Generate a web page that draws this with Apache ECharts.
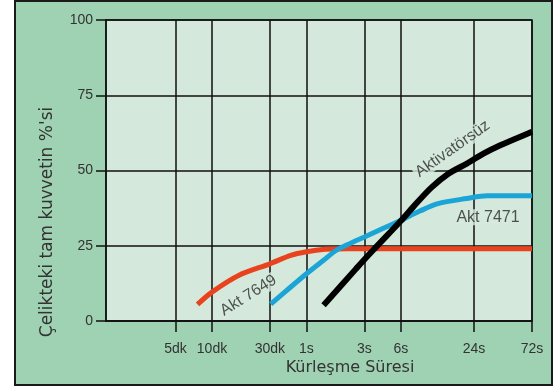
<!DOCTYPE html>
<html>
<head>
<meta charset="utf-8">
<script src="https://cdn.jsdelivr.net/npm/echarts@6/dist/echarts.min.js"></script>
<style>
html,body{margin:0;padding:0;background:#fff;}
#c{width:557px;height:387px;}
</style>
</head>
<body>
<div id="c"></div>
<script>
// X tick positions (minutes) and their labels
const tickValuesX = [5, 10, 30, 60, 180, 360, 1440, 4320];
const tickLabelsX = ['5dk', '10dk', '30dk', '1s', '3s', '6s', '24s', '72s'];
const ticksY = [0, 25, 50, 75, 100];

// Akt 7649 (red)
const redX = [7.6, 10, 16.7, 30, 44.5, 60, 85, 130, 4320];
const redY = [5.5, 9.6, 15.2, 19, 21.8, 23, 23.8, 24, 24];
// Akt 7471 (blue)
const blueX = [30.5, 44.5, 60, 83, 106, 136, 180, 255, 360, 520, 726, 1253, 1847, 4320];
const blueY = [5.6, 11.3, 15.7, 20.2, 23.5, 25.7, 27.9, 30.7, 33.5, 36.6, 39, 40.7, 41.6, 41.6];
// Aktivatörsüz (black)
const blackX = [83, 154, 211, 360, 456, 640, 891, 1256, 1734, 2367, 3230, 4320];
const blackY = [5.2, 17.4, 23.4, 33.3, 38, 44.3, 49, 52.3, 55.7, 58.4, 60.7, 62.9];

// curve labels: position and rotation
const labelNames = ['Akt 7649', 'Akt 7471', 'Aktivatörsüz'];
const labelX = [20, 1876, 960];
const labelY = [8.5, 34.5, 57.2];
const labelRot = [32, 0, 35];

const plotBg = '#d5e8dc';
const zip = (xs, ys) => xs.map((x, i) => [x, ys[i]]);

const chart = echarts.init(document.getElementById('c'), null, { renderer: 'canvas' });
chart.setOption({
  animation: false,
  backgroundColor: '#ffffff',
  graphic: [
    { type: 'rect', z: -100, shape: { x: 15, y: 1, width: 537, height: 384 },
      style: { fill: '#9fd1b3', stroke: '#1a1a1a', lineWidth: 2 } },
    { type: 'text', x: 350, y: 368, z: 10,
      style: { text: 'Kürleşme Süresi', font: '16px "DejaVu Sans"', fill: '#333', align: 'center', verticalAlign: 'middle' } },
    { type: 'text', x: 48, y: 222, rotation: Math.PI / 2, z: 10,
      style: { text: "Çelikteki tam kuvvetin %'si", font: '17px "DejaVu Sans"', fill: '#333', align: 'center', verticalAlign: 'middle' } }
  ],
  grid: {
    left: 106, right: 25, top: 20, bottom: 66,
    show: true, backgroundColor: plotBg, borderColor: '#111', borderWidth: 1.5
  },
  xAxis: {
    type: 'log', logBase: 10, min: 1.34, max: 4320,
    axisLine: { show: true, lineStyle: { color: '#111', width: 1.5 } },
    axisTick: { show: true, customValues: tickValuesX, length: 11, inside: false, lineStyle: { color: '#111', width: 1.5 } },
    axisLabel: {
      customValues: tickValuesX, margin: 21, color: '#333', fontSize: 14, fontFamily: 'Liberation Sans',
      formatter: function (v) {
        for (let i = 0; i < tickValuesX.length; i++) {
          if (Math.abs(tickValuesX[i] - v) / tickValuesX[i] < 1e-6) return tickLabelsX[i];
        }
        return '';
      }
    },
    splitLine: { show: true, lineStyle: { color: '#111', width: 1.5 } },
    minorTick: { show: false }, minorSplitLine: { show: false }
  },
  yAxis: {
    type: 'value', min: ticksY[0], max: ticksY[ticksY.length - 1], interval: 25,
    axisLine: { show: true, lineStyle: { color: '#111', width: 1.5 } },
    axisTick: { show: true, length: 10, inside: false, lineStyle: { color: '#111', width: 1.5 } },
    axisLabel: { margin: 13, color: '#333', fontSize: 14, fontFamily: 'Liberation Sans' },
    splitLine: { show: true, lineStyle: { color: '#111', width: 1.5 } }
  },
  series: [
    {
      name: 'labels', type: 'scatter', z: 2, silent: true,
      symbol: 'rect', symbolSize: 1, itemStyle: { color: 'rgba(0,0,0,0)' },
      label: {
        show: true, position: 'inside', formatter: '{b}',
        color: '#2b2b2b', fontFamily: 'Liberation Sans', fontSize: 16,
        backgroundColor: plotBg, padding: [0, 2]
      },
      data: labelNames.map((n, i) => ({ name: n, value: [labelX[i], labelY[i]], label: { rotate: labelRot[i] } }))
    },
    {
      name: 'Akt 7649', type: 'line', data: zip(redX, redY), smooth: 0.3,
      showSymbol: false, lineStyle: { color: '#e8421e', width: 5 }, z: 3
    },
    {
      name: 'Akt 7471', type: 'line', data: zip(blueX, blueY), smooth: 0.3,
      showSymbol: false, lineStyle: { color: '#1ba5d6', width: 5 }, z: 4
    },
    {
      name: 'Aktivatörsüz', type: 'line', data: zip(blackX, blackY), smooth: 0.3,
      showSymbol: false, lineStyle: { color: '#000', width: 6 }, z: 5
    }
  ]
});
</script>
</body>
</html>
